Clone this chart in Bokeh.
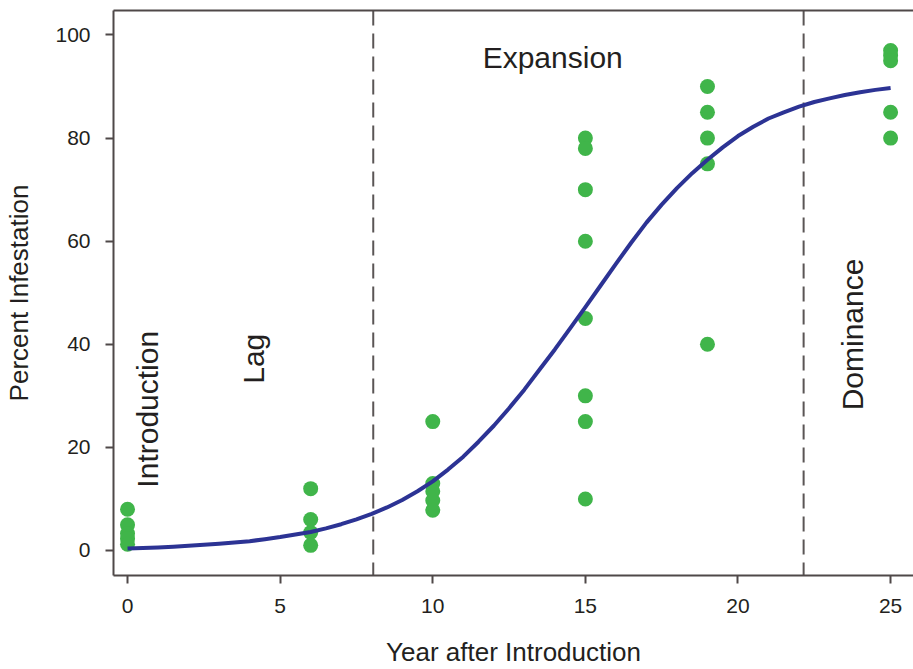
import math
from bokeh.plotting import figure
from bokeh.models import Span, Label, FixedTicker, LinearAxis
from bokeh.embed import file_html
from bokeh.resources import INLINE

# ---- data ----
obs_year = [0, 0, 0, 0, 0,
            6, 6, 6, 6,
            10, 10, 10, 10, 10,
            15, 15, 15, 15, 15, 15, 15, 15,
            19, 19, 19, 19, 19,
            25, 25, 25, 25, 25]
obs_pct = [8, 5, 3.3, 2.3, 1.2,
           12, 6, 3.5, 1,
           25, 13, 11.5, 9.7, 7.8,
           80, 78, 70, 60, 45, 30, 25, 10,
           90, 85, 80, 75, 40,
           97, 96, 95, 85, 80]

# fitted curve, read every half year
fit_year = [0, 0.5, 1, 1.5, 2, 2.5, 3, 3.5, 4, 4.5, 5, 5.5, 6, 6.5, 7, 7.5, 8, 8.5,
            9, 9.5, 10, 10.5, 11, 11.5, 12, 12.5, 13, 13.5, 14, 14.5, 15, 15.5,
            16, 16.5, 17, 17.5, 18, 18.5, 19, 19.5, 20, 20.5, 21, 21.5, 22, 22.5,
            23, 23.5, 24, 24.5, 25]
fit_pct = [0.4, 0.5, 0.6, 0.75, 0.9, 1.1, 1.3, 1.55, 1.8, 2.2, 2.6, 3.1, 3.6, 4.3,
           5.1, 6.05, 7.1, 8.35, 9.8, 11.5, 13.4, 15.7, 18.2, 21.1, 24.2, 27.6,
           31.2, 35.1, 39.0, 43.1, 47.2, 51.4, 55.6, 59.7, 63.6, 67.1, 70.3, 73.2,
           75.8, 78.2, 80.4, 82.2, 83.8, 85.0, 86.1, 87.0, 87.7, 88.35, 88.9,
           89.35, 89.7]

phase_bounds = [8.05, 22.15]
phase_names = ["Introduction", "Lag", "Expansion", "Dominance"]

x_ticks = [0, 5, 10, 15, 20, 25]
y_ticks = [0, 20, 40, 60, 80, 100]

# ---- layout / style ----
FONT = "Liberation Sans"
AXIS_COL = "#4f4848"
TEXT_COL = "#231f20"

p = figure(width=913, height=669, x_range=(-0.46, 25.75), y_range=(-4.85, 104.75),
           output_backend="svg", toolbar_location=None,
           min_border_left=113, min_border_right=0, min_border_top=10,
           min_border_bottom=94)
p.grid.visible = False
p.background_fill_color = "white"
p.border_fill_color = "white"
p.outline_line_color = None

xax = p.below[0]
yax = p.left[0]
for ax in (xax, yax):
    ax.axis_line_color = AXIS_COL
    ax.axis_line_width = 2
    ax.major_tick_line_color = AXIS_COL
    ax.major_tick_line_width = 2
    ax.major_tick_out = 8
    ax.major_tick_in = 0
    ax.minor_tick_line_color = None
    ax.major_label_text_font = FONT
    ax.major_label_text_font_size = "21px"
    ax.major_label_text_color = TEXT_COL
    ax.axis_label_text_font = FONT
    ax.axis_label_text_font_size = "26px"
    ax.axis_label_text_font_style = "normal"
    ax.axis_label_text_color = TEXT_COL

xax.ticker = FixedTicker(ticks=x_ticks)
yax.ticker = FixedTicker(ticks=y_ticks)
xax.axis_label = "Year after Introduction"
yax.axis_label = "Percent Infestation"
xax.major_label_standoff = 15
yax.major_label_standoff = 15
xax.axis_label_standoff = 21
yax.axis_label_standoff = 18

# top frame line (no right edge visible in the original)
top = LinearAxis(ticker=FixedTicker(ticks=[]), major_tick_out=0, major_tick_in=0,
                 minor_tick_out=0, minor_tick_in=0, major_label_standoff=0,
                 major_label_text_font_size="0px", minor_tick_line_color=None,
                 major_tick_line_color=None, axis_line_color=AXIS_COL,
                 axis_line_width=2)
p.add_layout(top, "above")

for b in phase_bounds:
    p.add_layout(Span(location=b, dimension="height", line_color="#5a5555",
                      line_width=2, line_dash="15 8", level="underlay"))

p.scatter(obs_year, obs_pct, size=15, fill_color="#40b54a", line_color=None)
p.line(fit_year, fit_pct, line_color="#2c3394", line_width=4, line_join="round")

label_pos = [(0.66, 27.4, math.pi / 2), (4.13, 37.2, math.pi / 2),
             (13.93, 95.6, 0.0), (23.75, 41.9, math.pi / 2)]
for name, (lx, ly, ang) in zip(phase_names, label_pos):
    p.add_layout(Label(x=lx, y=ly, text=name, angle=ang, text_align="center",
                       text_baseline="middle", text_font=FONT,
                       text_font_size="30px", text_color=TEXT_COL))

open("out.html", "w").write(file_html(p, INLINE))
